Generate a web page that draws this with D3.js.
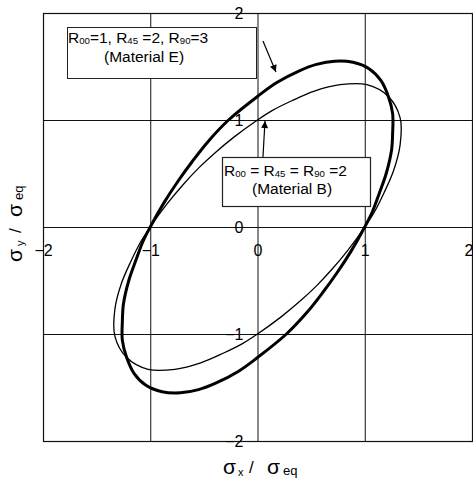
<!DOCTYPE html>
<html><head><meta charset="utf-8">
<script src="https://cdn.jsdelivr.net/npm/d3@7"></script>
<style>body{margin:0;background:#fff}svg{display:block}</style>
</head><body><svg id="c" width="473" height="480"></svg>
<script>
// ---- data ----
const tickValues = [-2, -1, 0, 1, 2];
const tickLabels = ['−2', '−1', '0', '1', '2'];
const gridValues = [-1, 0, 1];
// Material E : R00=1, R45=2, R90=3  (thick curve)
const materialE_x = [1.00, 1.07, 1.13, 1.20, 1.25, 1.26, 1.26, 1.22, 1.15, 1.04, 0.89, 0.72, 0.55, 0.39, 0.18, 0.00, -0.27, -0.46, -0.61, -0.74, -0.87,
                     -1.00, -1.07, -1.13, -1.20, -1.25, -1.26, -1.26, -1.22, -1.15, -1.04, -0.89, -0.72, -0.55, -0.39, -0.18, 0.00, 0.27, 0.46, 0.61, 0.74, 0.87];
const materialE_y = [0.00, 0.14, 0.30, 0.50, 0.72, 0.88, 1.06, 1.22, 1.37, 1.48, 1.54, 1.55, 1.52, 1.46, 1.35, 1.22, 1.00, 0.80, 0.61, 0.43, 0.23,
                     0.00, -0.14, -0.30, -0.50, -0.72, -0.88, -1.06, -1.22, -1.37, -1.48, -1.54, -1.55, -1.52, -1.46, -1.35, -1.22, -1.00, -0.80, -0.61, -0.43, -0.23];
// Material B : R00=R45=R90=2 (thin curve)
const materialB_x = [1.00, 1.09, 1.18, 1.27, 1.33, 1.33, 1.22, 1.02, 0.77, 0.53, 0.32, 0.14, 0.00, -0.22, -0.40, -0.55, -0.69, -0.84,
                     -1.00, -1.09, -1.18, -1.27, -1.33, -1.33, -1.22, -1.02, -0.77, -0.53, -0.32, -0.14, 0.00, 0.22, 0.40, 0.55, 0.69, 0.84];
const materialB_y = [0.00, 0.14, 0.32, 0.53, 0.77, 1.02, 1.22, 1.33, 1.33, 1.27, 1.18, 1.09, 1.00, 0.84, 0.69, 0.55, 0.40, 0.22,
                     0.00, -0.14, -0.32, -0.53, -0.77, -1.02, -1.22, -1.33, -1.33, -1.27, -1.18, -1.09, -1.00, -0.84, -0.69, -0.55, -0.40, -0.22];

// ---- layout ----
const svg = d3.select('#c');
const FONT = '"Liberation Sans", Arial, sans-serif';
const x = d3.scaleLinear().domain([-2, 2]).range([43, 472]);
const y = d3.scaleLinear().domain([-2, 2]).range([441, 13]);

// grid
const grid = svg.append('g').attr('stroke', '#111').attr('stroke-width', 1);
grid.selectAll('.gx').data(gridValues).join('line')
  .attr('x1', d => x(d) + 0.5).attr('x2', d => x(d) + 0.5)
  .attr('y1', y(2)).attr('y2', y(-2));
grid.selectAll('.gy').data(gridValues).join('line')
  .attr('y1', d => y(d) + 0.5).attr('y2', d => y(d) + 0.5)
  .attr('x1', x(-2)).attr('x2', x(2));
// frame
svg.append('rect').attr('x', x(-2) + 0.5).attr('y', y(2) + 0.5)
  .attr('width', x(2) - x(-2)).attr('height', y(-2) - y(2))
  .attr('fill', 'none').attr('stroke', '#111').attr('stroke-width', 1.2);

// curves
const line = d3.line().x(d => x(d[0])).y(d => y(d[1])).curve(d3.curveCatmullRomClosed.alpha(0.5));
const ptsE = d3.zip(materialE_x, materialE_y);
const ptsB = d3.zip(materialB_x, materialB_y);
svg.append('path').attr('d', line(ptsB)).attr('fill', 'none').attr('stroke', '#000').attr('stroke-width', 1.3);
svg.append('path').attr('d', line(ptsE)).attr('fill', 'none').attr('stroke', '#000').attr('stroke-width', 3);

// axes (tick labels placed along the zero lines)
const lab = d => tickLabels[tickValues.indexOf(d)];
const ax = svg.append('g').attr('transform', `translate(0,${y(0)})`)
  .call(d3.axisBottom(x).tickValues(tickValues).tickSize(0).tickPadding(18).tickFormat(lab));
const ay = svg.append('g').attr('transform', `translate(${x(0)},0)`)
  .call(d3.axisLeft(y).tickValues(tickValues).tickSize(0).tickPadding(14).tickFormat(lab));
[ax, ay].forEach(g => {
  g.select('.domain').remove();
  g.selectAll('text').attr('font-family', FONT).attr('font-size', 16).attr('fill', '#000');
});
// keep the last x label inside the picture
ax.selectAll('.tick').filter(d => d === 2).select('text').attr('text-anchor', 'end').attr('x', 1);

// legend boxes
function rich(g, x0, y0, parts, size) {
  const t = g.append('text').attr('x', x0).attr('y', y0)
    .attr('font-family', FONT).attr('font-size', size).attr('fill', '#000');
  parts.forEach(p => {
    if (p[1]) t.append('tspan').attr('font-size', size * 0.62).attr('dy', 1).text(p[0]);
    else t.append('tspan').attr('dy', p[2] || 0).text(p[0]);
  });
  return t;
}
const leg = svg.append('g');
leg.append('rect').attr('x', 67.5).attr('y', 27.5).attr('width', 189).attr('height', 51)
  .attr('fill', '#fff').attr('stroke', '#222').attr('stroke-width', 1);
rich(leg, 68, 42.5, [['R'], ['00', 1], ['=1, R', 0, -1], ['45', 1], [' =2, R', 0, -1], ['90', 1], ['=3', 0, -1]], 15.5);
leg.append('text').attr('x', 104).attr('y', 62).attr('font-family', FONT).attr('font-size', 15.5).text('(Material E)');

leg.append('rect').attr('x', 222.5).attr('y', 157.5).attr('width', 148).attr('height', 49)
  .attr('fill', '#fff').attr('stroke', '#222').attr('stroke-width', 1.2);
rich(leg, 224, 176, [['R'], ['00', 1], [' = R', 0, -1], ['45', 1], [' = R', 0, -1], ['90', 1], [' =2', 0, -1]], 15.5);
leg.append('text').attr('x', 252).attr('y', 194).attr('font-family', FONT).attr('font-size', 15.5).text('(Material B)');

// arrows
const defs = svg.append('defs');
defs.append('marker').attr('id', 'ah').attr('viewBox', '0 0 10 10').attr('refX', 10).attr('refY', 5)
  .attr('markerWidth', 8).attr('markerHeight', 7).attr('markerUnits', 'userSpaceOnUse').attr('orient', 'auto')
  .append('path').attr('d', 'M0,0 L10,5 L0,10 z').attr('fill', '#000');
const arrows = [[0.051, 1.738, 0.172, 1.449], [0.051, 0.654, 0.07, 0.991]];
svg.selectAll('.arr').data(arrows).join('line')
  .attr('x1', d => x(d[0])).attr('y1', d => y(d[1])).attr('x2', d => x(d[2])).attr('y2', d => y(d[3]))
  .attr('stroke', '#000').attr('stroke-width', 1.2).attr('marker-end', 'url(#ah)');

// axis titles
function title(g, pieces) {
  pieces.forEach(p => {
    g.append('text').attr('x', p[1]).attr('y', p[2]).attr('font-family', FONT)
      .attr('font-size', p[3]).attr('fill', '#000').text(p[0]);
  });
}
const tx = svg.append('g');
title(tx, [['σ', 223, 474, 21], ['x', 238, 476, 11], ['/', 249, 473, 17], ['σ', 267, 474, 21], ['eq', 283, 475, 13]]);
const ty = svg.append('g').attr('transform', 'translate(22,262) rotate(-90)');
title(ty, [['σ', 0, 0, 21], ['y', 16, 2, 11], ['/', 29, -1, 17], ['σ', 45, 0, 21], ['eq', 62, 1, 13]]);
</script></body></html>
